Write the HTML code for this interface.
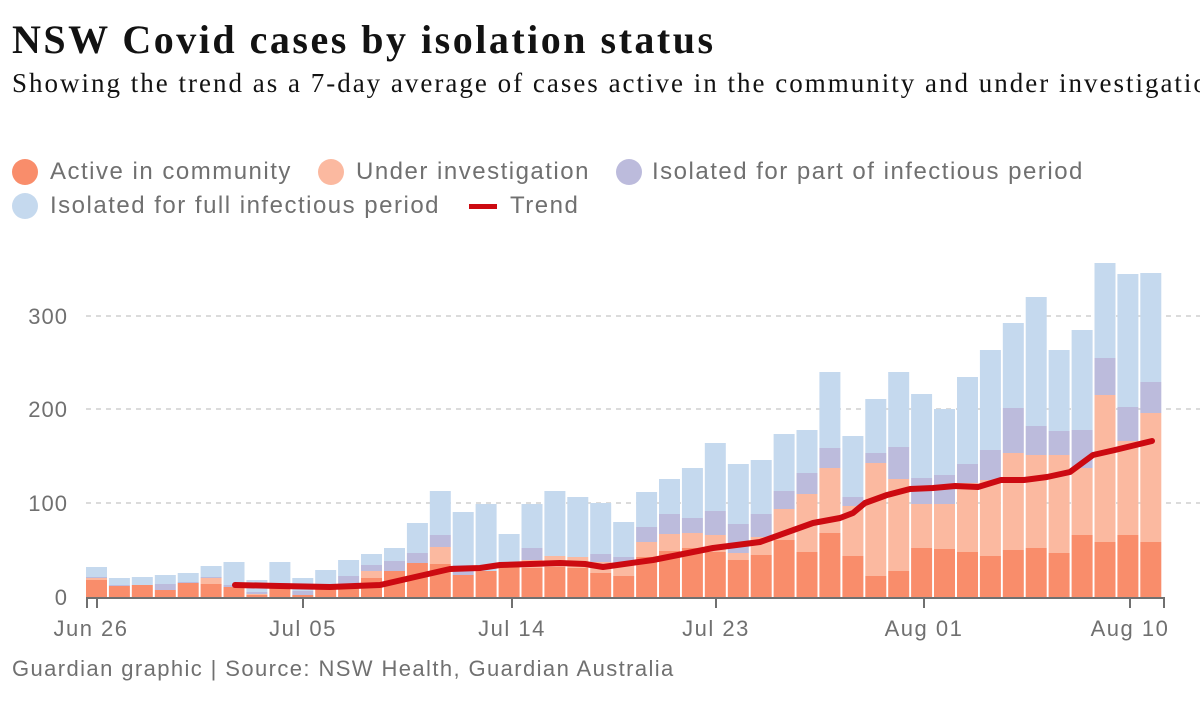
<!DOCTYPE html>
<html><head><meta charset="utf-8"><style>
body{margin:0;background:#fff;width:1200px;height:720px;overflow:hidden;font-family:"Liberation Sans",sans-serif}
.t{position:absolute;left:12px;top:16px;font:bold 40px "Liberation Serif",serif;color:#121212;letter-spacing:2.5px;white-space:nowrap}
.s{position:absolute;left:12px;top:68px;font:27px "Liberation Serif",serif;color:#121212;white-space:nowrap;letter-spacing:2px}
.it{position:absolute;font-size:24px;color:#707070;white-space:nowrap;letter-spacing:1.5px}
.d{position:absolute;width:26px;height:26px;border-radius:50%}
.f{position:absolute;left:12px;top:656px;font-size:22px;color:#707070;letter-spacing:1.4px;white-space:nowrap}
</style></head><body>
<div class="t">NSW Covid cases by isolation status</div>
<div class="s">Showing the trend as a 7-day average of cases active in the community and under investigation</div>
<i class="d" style="left:12px;top:159px;background:#f98d6b"></i><div class="it" style="left:50px;top:158px">Active in community</div>
<i class="d" style="left:318px;top:159px;background:#fbb9a0"></i><div class="it" style="left:356px;top:158px">Under investigation</div>
<i class="d" style="left:616px;top:159px;background:#bcbbdc"></i><div class="it" style="left:652px;top:158px">Isolated for part of infectious period</div>
<i class="d" style="left:12px;top:193px;background:#c5d9ee"></i><div class="it" style="left:50px;top:192px">Isolated for full infectious period</div>
<i style="position:absolute;left:469px;top:204px;width:28px;height:5px;background:#cc0a11"></i><div class="it" style="left:510px;top:192px">Trend</div>
<svg id="c" width="1200" height="720" style="position:absolute;left:0;top:0" font-family="Liberation Sans, sans-serif">
<g stroke="#cfcfcf" stroke-dasharray="5,5" stroke-width="1.5">
<line x1="86" x2="1200" y1="316" y2="316"/><line x1="86" x2="1200" y1="409" y2="409"/><line x1="86" x2="1200" y1="503" y2="503"/></g>
<g fill="#707070" font-size="22" text-anchor="end" letter-spacing="1"><text x="68" y="324">300</text><text x="68" y="417">200</text><text x="68" y="511">100</text><text x="68" y="605">0</text></g>
<g id="bars"></g>
<polyline fill="none" stroke="#cc0a11" stroke-width="6" stroke-linejoin="round" stroke-linecap="round" points="235,585 280,586 330,587 380,585 415,577 450,569 480,568 500,565 560,563 585,564 603,567 653,560 713,548 760,542 813,523 840,518 853,513 865,503 887,495 910,489 933,488 955,486 978,487 1001,480 1024,480 1047,477 1070,472 1093,455 1115,450 1152,441"/>
<g stroke="#707070" stroke-width="2"><line x1="86" x2="1165" y1="598" y2="598"/>
<line x1="87" x2="87" y1="598" y2="608"/><line x1="97" x2="97" y1="598" y2="608"/><line x1="303" x2="303" y1="598" y2="608"/><line x1="512" x2="512" y1="598" y2="608"/><line x1="716" x2="716" y1="598" y2="608"/><line x1="924" x2="924" y1="598" y2="608"/><line x1="1130" x2="1130" y1="598" y2="608"/><line x1="1164" x2="1164" y1="598" y2="608"/></g>
<g fill="#707070" font-size="22" text-anchor="middle" letter-spacing="1.5"><text x="91" y="636">Jun 26</text><text x="303" y="636">Jul 05</text><text x="512" y="636">Jul 14</text><text x="716" y="636">Jul 23</text><text x="924" y="636">Aug 01</text><text x="1130" y="636">Aug 10</text></g>
</svg>
<div class="f">Guardian graphic | Source: NSW Health, Guardian Australia</div>
<script>
var d=[[567,577,578,580],[578,585,586,586],[577,585,585,585],[575,584,590,590],[573,582,583,583],[566,577,578,584],[562,585,587,587],[580,592,594,595],[562,583,584,584],[578,591,595,595],[570,584,584,584],[560,576,585,585],[554,565,571,578],[548,561,571,571],[523,553,563,563],[491,535,547,564],[512,565,575,575],[504,571,571,571],[534,567,567,567],[504,548,560,568],[491,556,556,567],[497,557,557,568],[503,554,562,573],[522,557,563,576],[492,527,542,557],[479,514,534,551],[468,518,533,548],[443,511,535,552],[464,524,553,560],[460,514,537,555],[434,491,509,540],[430,473,494,552],[372,448,468,533],[436,497,506,556],[399,453,463,576],[372,447,479,571],[394,478,504,548],[409,475,504,549],[377,464,483,552],[350,450,480,556],[323,408,453,550],[297,426,455,548],[350,431,455,553],[330,430,468,535],[263,358,395,542],[274,407,441,535],[273,382,413,542]];
var cols=["#c5d9ee","#bcbbdc","#fbb9a0","#f98d6b"],h="";
d.forEach(function(b,i){var x=86+22.92*i;for(var k=0;k<4;k++){var y0=b[k],y1=k<3?b[k+1]:597;if(y1>y0)h+='<rect x="'+x.toFixed(1)+'" y="'+y0+'" width="21" height="'+(y1-y0)+'" fill="'+cols[k]+'"/>';}});
document.getElementById("bars").innerHTML=h;
</script>
</body></html>
